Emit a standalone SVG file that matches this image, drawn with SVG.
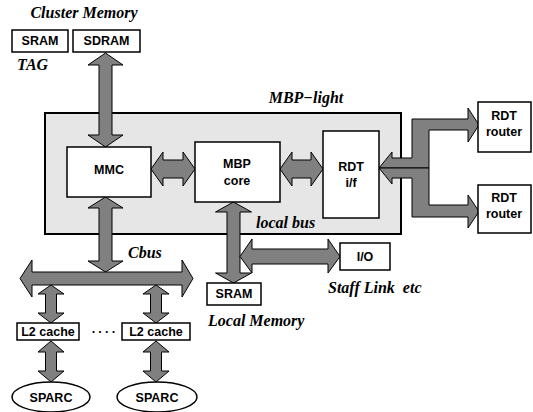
<svg xmlns="http://www.w3.org/2000/svg" width="533" height="412" viewBox="0 0 533 412">
<defs>
<style>
.box{fill:#ffffff;stroke:#000000;stroke-width:1.5}
.outer{fill:#e6e6e6;stroke:#000000;stroke-width:2}
.arr{fill:#808080;stroke:#000000;stroke-width:1;stroke-linejoin:miter}
.lbl{font-family:"Liberation Sans",Arial,sans-serif;font-weight:bold;font-size:12.5px;fill:#000;text-anchor:middle}
.it{font-family:"Liberation Serif","Times New Roman",serif;font-weight:bold;font-style:italic;font-size:16px;fill:#000;white-space:pre}
</style>
</defs>
<rect width="533" height="412" fill="#ffffff"/>

<g id="mbp-light">
<rect class="outer" x="45" y="113" width="356" height="121"/>
<text class="it" x="306" y="103" text-anchor="middle">MBP−light</text>
</g>

<g id="cluster-memory">
<text class="it" x="84" y="18" text-anchor="middle">Cluster Memory</text>
</g>
<g id="sram-tag">
<rect class="box" x="12" y="30" width="56" height="22"/>
<text class="lbl" x="40" y="45">SRAM</text>
<text class="it" x="17" y="70">TAG</text>
</g>
<g id="sdram">
<rect class="box" x="73" y="30" width="67" height="22"/>
<text class="lbl" x="106.5" y="45">SDRAM</text>
</g>

<g id="connectors">
<polygon class="arr" points="105.5,53 123,65 112,65 112,135 123,135 105.5,147 88,135 99,135 99,65 88,65"/>
<polygon class="arr" points="105.5,197 123,208 112,208 112,261 123,261 105.5,272 88,261 99,261 99,208 88,208"/>
<polygon class="arr" points="20,278.5 32,260 32,272 182,272 182,260 193,278.5 182,297 182,285 32,285 32,297"/>
<polygon class="arr" points="51,285 64,294 56.5,294 56.5,313 64,313 51,323 38,313 45.5,313 45.5,294 38,294"/>
<polygon class="arr" points="156,285 169,294 161.5,294 161.5,313 169,313 156,323 143,313 150.5,313 150.5,294 143,294"/>
<polygon class="arr" points="51,341 64,352 56.5,352 56.5,371 64,371 51,382 38,371 45.5,371 45.5,352 38,352"/>
<polygon class="arr" points="156,341 169,352 161.5,352 161.5,371 169,371 156,382 143,371 150.5,371 150.5,352 143,352"/>
<polygon class="arr" points="151,169 163,152 163,160 183,160 183,152 195,169 183,186 183,178 163,178 163,186"/>
<polygon class="arr" points="280,169 292,152 292,160 311,160 311,152 323,169 311,186 311,178 292,178 292,186"/>
<polygon class="arr" points="233.5,202 251.5,212 240,212 240,273 251.5,273 233.5,283 215.5,273 227,273 227,212 215.5,212"/>
<polygon class="arr" points="240,256.5 252,239 252,249 328,249 328,239 340,256.5 328,273 328,264 252,264 252,273"/>
<polygon class="arr" points="379,168 392,152 392,158 412,158 412,119 468,119 468,108 479,125 468,142 468,130 429,130 429,168"/>
<polygon class="arr" points="379,168 392,184 392,178 412,178 412,217 468,217 468,228 479,211.5 468,195 468,205 429,205 429,168"/>
</g>

<g id="mmc">
<rect class="box" x="67" y="147" width="84" height="50"/>
<text class="lbl" x="109" y="174">MMC</text>
</g>
<g id="mbp-core">
<rect class="box" x="195" y="142" width="85" height="60"/>
<text class="lbl" x="237" y="168">MBP</text>
<text class="lbl" x="237" y="185">core</text>
</g>
<g id="rdt-if">
<rect class="box" x="323" y="131" width="56" height="87"/>
<text class="lbl" x="351" y="171">RDT</text>
<text class="lbl" x="351" y="187">i/f</text>
</g>
<g id="rdt-router-1">
<rect class="box" x="478" y="102" width="53" height="50"/>
<text class="lbl" x="504" y="120">RDT</text>
<text class="lbl" x="504" y="136">router</text>
</g>
<g id="rdt-router-2">
<rect class="box" x="478" y="185" width="53" height="48"/>
<text class="lbl" x="504" y="202">RDT</text>
<text class="lbl" x="504" y="218">router</text>
</g>
<g id="local-bus">
<text class="it" x="256" y="228">local bus</text>
</g>
<g id="io">
<rect class="box" x="340" y="243" width="50" height="27"/>
<text class="lbl" x="365" y="261">I/O</text>
<text class="it" x="328" y="293" xml:space="preserve">Staff Link  etc</text>
</g>
<g id="local-sram">
<rect class="box" x="207" y="283" width="54" height="22"/>
<text class="lbl" x="234" y="298">SRAM</text>
<text class="it" x="208" y="326">Local Memory</text>
</g>
<g id="cbus">
<text class="it" x="128" y="258">Cbus</text>
</g>
<g id="l2-1">
<rect class="box" x="17" y="323" width="62" height="17"/>
<text class="lbl" x="48" y="336">L2 cache</text>
</g>
<g id="dots">
<text class="lbl" x="105" y="336" letter-spacing="2.5">····</text>
</g>
<g id="l2-2">
<rect class="box" x="122" y="323" width="68" height="17"/>
<text class="lbl" x="156" y="336">L2 cache</text>
</g>
<g id="sparc-1">
<ellipse class="box" cx="51" cy="397" rx="39" ry="15"/>
<text class="lbl" x="51" y="402">SPARC</text>
</g>
<g id="sparc-2">
<ellipse class="box" cx="157" cy="397" rx="40" ry="15"/>
<text class="lbl" x="157" y="402">SPARC</text>
</g>
</svg>
